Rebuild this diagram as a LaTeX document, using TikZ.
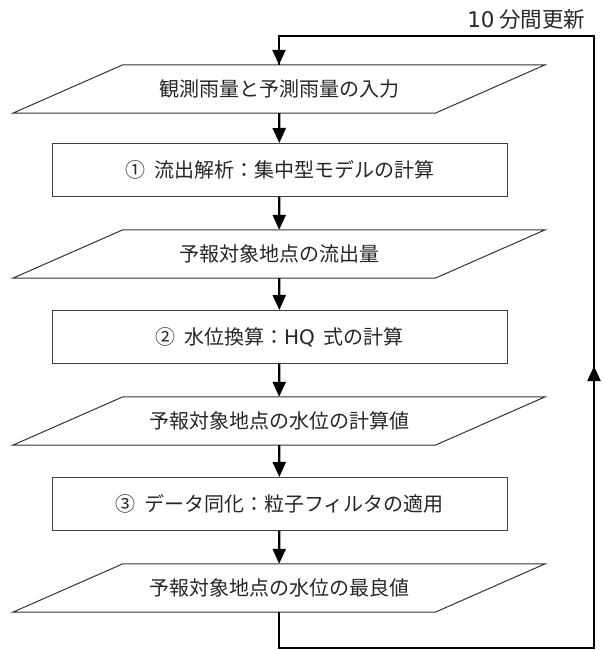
\documentclass[tikz,border=0pt]{standalone}
\usepackage{fontspec}
\setmainfont{Noto Sans CJK JP}
\newfontfamily\latfont{DejaVu Sans}
\usetikzlibrary{arrows.meta}
\begin{document}
\begin{tikzpicture}[x=1pt,y=-1pt,
  txt/.style={font=\fontsize{20}{24}\selectfont, text=black!85},
  iobox/.style={txt, minimum width=532pt, minimum height=48pt, inner sep=0pt},
  procbox/.style={txt, draw=black!75, line width=1pt, minimum width=455pt, minimum height=53pt, inner sep=0pt},
  ioline/.style={draw=black!80, line width=1pt, line join=miter},
  flow/.style={draw=black, line width=2.3pt, -{Triangle[width=13pt,length=15pt]}},
  loopline/.style={draw=black, line width=2.3pt}
]
\useasboundingbox (0,0) rectangle (603,650);
\node[iobox]   (p1) at (279,89)  {観測雨量と予測雨量の入力};
\node[procbox] (r1) at (279.5,170) {①\hspace{9pt}流出解析：集中型モデルの計算};
\node[iobox]   (p2) at (279,254) {予報対象地点の流出量};
\node[procbox] (r2) at (279.5,337) {②\hspace{9pt}水位換算：{\latfont HQ}\hspace{9pt}式の計算};
\node[iobox]   (p3) at (279,421) {予報対象地点の水位の計算値};
\node[procbox] (r3) at (279.5,504) {③\hspace{9pt}データ同化：粒子フィルタの適用};
\node[iobox]   (p4) at (279,588) {予報対象地点の水位の最良値};
\foreach \n in {p1,p2,p3,p4}
  \draw[ioline] (\n.south west) -- ([xshift=110pt]\n.north west) -- (\n.north east) -- ([xshift=-110pt]\n.south east) -- cycle;
\node[txt, font=\fontsize{21.5}{25}\selectfont, anchor=east] (lbl) at (589,19) {{\latfont 10} 分間更新};
\draw[flow] (p1) -- (r1);
\draw[flow] (r1) -- (p2);
\draw[flow] (p2) -- (r2);
\draw[flow] (r2) -- (p3);
\draw[flow] (p3) -- (r3);
\draw[flow] (r3) -- (p4);
\coordinate (bl) at (279,648);
\coordinate (br) at (594,648);
\coordinate (tr) at (594,36);
\coordinate (tl) at (279,36);
\coordinate (mid) at (594,366);
\draw[loopline] (p4.south) -- (bl) -- (br) -- (tr) -- (tl) -- (p1.north -| tl);
\draw[flow] (tl) -- (p1.north);
\draw[flow] (br) -- (mid);
\end{tikzpicture}
\end{document}
